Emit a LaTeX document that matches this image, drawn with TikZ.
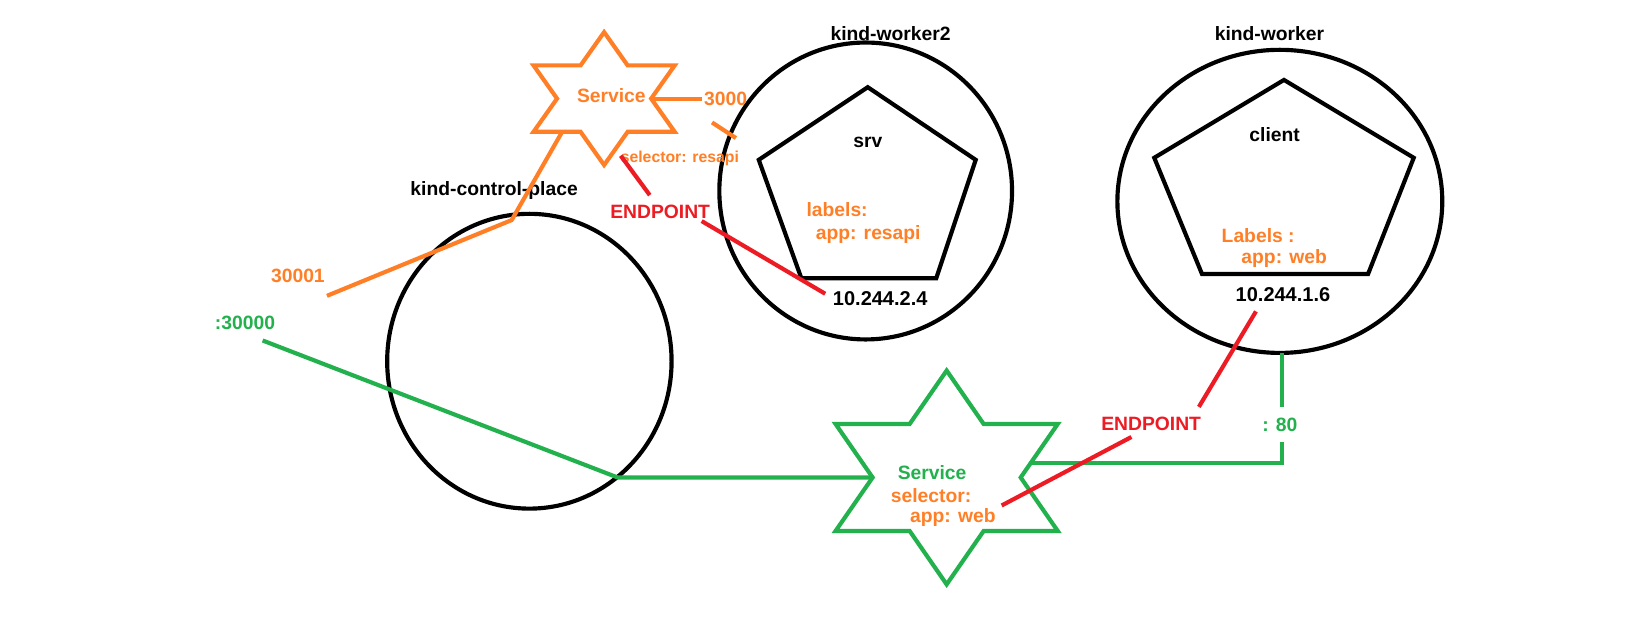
\documentclass[tikz,border=0pt]{standalone}
\usepackage{fontspec}
\setmainfont{Liberation Sans}
\usetikzlibrary{shapes.geometric}
\definecolor{paorange}{HTML}{FF7F27}
\definecolor{pagreen}{HTML}{22B14C}
\definecolor{pared}{HTML}{ED1C24}
\newcommand\hexstar[5]{% cx, cy, R, hw, style
  \draw[#5] (#1,{#2-#3}) -- ({#1+#4/3},{#2-#3/2}) -- ({#1+#4},{#2-#3/2}) -- ({#1+2*#4/3},#2)
    -- ({#1+#4},{#2+#3/2}) -- ({#1+#4/3},{#2+#3/2}) -- (#1,{#2+#3}) -- ({#1-#4/3},{#2+#3/2})
    -- ({#1-#4},{#2+#3/2}) -- ({#1-2*#4/3},#2) -- ({#1-#4},{#2-#3/2}) -- ({#1-#4/3},{#2-#3/2}) -- cycle;}
\begin{document}
\begin{tikzpicture}[x=1.038pt,y=-1.038pt,line width=4.15pt,
  txt/.style={font=\fontsize{19.3}{22}\selectfont\bfseries,inner sep=0pt},
  big/.style={font=\fontsize{20}{22}\selectfont\bfseries,inner sep=0pt},
  small/.style={font=\fontsize{15.8}{17}\selectfont\bfseries,inner sep=0pt},
  host/.style={draw=black,ellipse,inner sep=0pt,line width=4.15pt},
  pod/.style={draw=black,line width=4.15pt,line join=miter},
  oline/.style={draw=paorange,line width=4.15pt},
  gline/.style={draw=pagreen,line width=4.15pt},
  rline/.style={draw=pared,line width=4.15pt}]
\useasboundingbox (0,0) rectangle (1566.5,615.6);
\fill[white] (0,0) rectangle (1566.5,615.6);

% hosts
\node[host,minimum width=284.4,minimum height=294.8] (cp) at (510,348) {};
\node[host,minimum width=292.7,minimum height=296.9] (w2) at (834,184) {};
\node[host,minimum width=324.9,minimum height=303.1] (w1) at (1233,194) {};

% pods
\coordinate (srvT) at (836,84);  \coordinate (srvR) at (940,154);
\coordinate (srvBR) at (902,268); \coordinate (srvBL) at (772,268);
\coordinate (srvL) at (731,154);
\draw[pod] (srvT) -- (srvR) -- (srvBR) -- (srvBL) -- (srvL) -- cycle;
\coordinate (cliT) at (1237,77);  \coordinate (cliR) at (1362,152);
\coordinate (cliBR) at (1318,264); \coordinate (cliBL) at (1158,264);
\coordinate (cliL) at (1112,152);
\draw[pod] (cliT) -- (cliR) -- (cliBR) -- (cliBL) -- (cliL) -- cycle;

% services
\hexstar{582}{95}{64}{68}{paorange,line join=miter}
\hexstar{912}{460}{103}{107}{pagreen,line join=miter}

% texts
\node[txt] (tcp) at (476,184) {kind-control-place};
\node[txt] (tw2) at (858,32) {kind-worker2};
\node[txt] (tw1) at (1223,32) {kind-worker};
\node[txt] (tsrv) at (836,137) {srv};
\node[txt] (tcli) at (1228,130) {client};
\node[txt,text=paorange,anchor=west] (lab2) at (775,202) {labels:};
\node[txt,text=paorange,anchor=west] (app2) at (784,226) {app: resapi};
\node[txt,text=paorange,anchor=west] (lab1) at (1175,227) {Labels :};
\node[txt,text=paorange,anchor=west] (app1) at (1194,249) {app: web};
\node[big] (ip2) at (848,288) {10.244.2.4};
\node[big] (ip1) at (1236,284) {10.244.1.6};
\node[txt,text=paorange] (svc1) at (589,92) {Service};
\node[txt,text=paorange] (p3000) at (699,95) {3000};
\node[small,text=paorange] (sel1) at (655,153) {selector: resapi};
\node[txt,text=paorange] (p30001) at (287,266) {30001};
\node[txt,text=pagreen] (p30000) at (236,311) {:30000};
\node[txt,text=pagreen] (p80) at (1233,409) {: 80};
\node[txt,text=pared] (ep1) at (636,204) {ENDPOINT};
\node[txt,text=pared] (ep2) at (1109,408) {ENDPOINT};
\node[txt,text=pagreen] (svc2) at (898,455) {Service};
\node[txt,text=paorange] (sel2) at (897,477) {selector:};
\node[txt,text=paorange] (app3) at (918,499) {app: web};

% orange connectors
\coordinate (o1) at (627,95);  \coordinate (o2) at (676,95);
\draw[oline] (o1) -- (o2);
\coordinate (o3) at (686,118); \coordinate (o4) at (709,133);
\draw[oline] (o3) -- (o4);
\coordinate (o5) at (541,128); \coordinate (o6) at (493,212); \coordinate (o7) at (315,285);
\draw[oline,line join=round] (o5) -- (o6) -- (o7);

% green connectors
\coordinate (g1) at (253,328); \coordinate (g2) at (595,460); \coordinate (g3) at (841,460);
\draw[gline,line join=round] (g1) -- (g2) -- (g3);
\coordinate (g4) at (1235,340); \coordinate (g5) at (1235,392);
\draw[gline] (g4) -- (g5);
\coordinate (g6) at (1235,426); \coordinate (g7) at (1235,446); \coordinate (g8) at (993,446);
\draw[gline] (g6) -- (g7) -- (g8);

% red connectors
\coordinate (r1) at (598,150); \coordinate (r2) at (626,188);
\draw[rline] (r1) -- (r2);
\coordinate (r3) at (676,213); \coordinate (r4) at (795,283);
\draw[rline] (r3) -- (r4);
\coordinate (r5) at (1210,300); \coordinate (r6) at (1155,392);
\draw[rline] (r5) -- (r6);
\coordinate (r7) at (1090,421); \coordinate (r8) at (965,487);
\draw[rline] (r7) -- (r8);
\end{tikzpicture}
\end{document}
